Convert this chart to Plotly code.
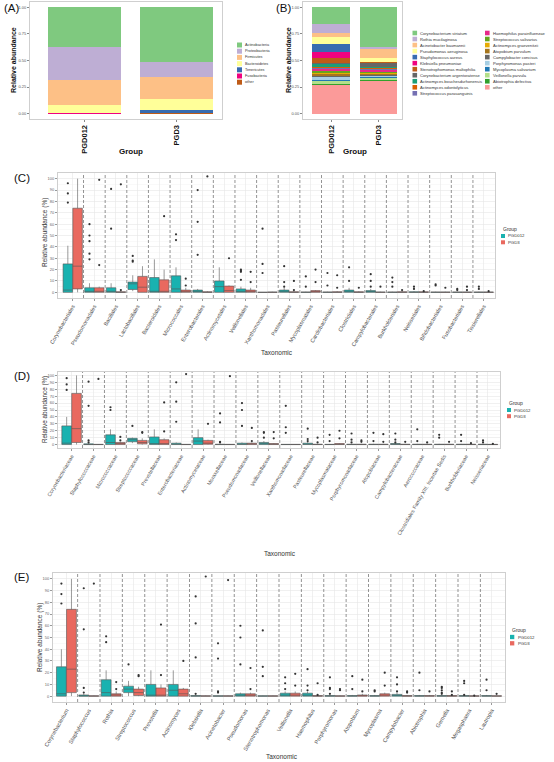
import plotly.graph_objects as go

W, H = 554, 762
FONT = "Liberation Sans, Arial, sans-serif"


def fx(p):
    return p / W


def fy(p):
    return 1 - p / H


# ---------------- Panel A data (phylum) ----------------
groups = ["PGD012", "PGD3"]
phyla = ["Actinobacteria", "Proteobacteria", "Firmicutes", "Bacteroidetes",
         "Tenericutes", "Fusobacteria", "other"]
phyla_colors = ["#7FC97F", "#BEAED4", "#FDC086", "#FFFF99", "#386CB0", "#F0027F", "#BF5B17"]
phyla_PGD012 = [0.373, 0.310, 0.239, 0.068, 0.008, 0.002, 0.000]
phyla_PGD3 = [0.510, 0.148, 0.205, 0.106, 0.023, 0.006, 0.002]

# ---------------- Panel B data (species) ----------------
species = ["Corynebacterium striatum", "Rothia mucilaginosa", "Acinetobacter baumannii",
           "Pseudomonas aeruginosa", "Staphylococcus aureus", "Klebsiella pneumoniae",
           "Stenotrophomonas maltophilia", "Corynebacterium argentoratense",
           "Actinomyces bouchesdurhonensis", "Actinomyces odontolyticus",
           "Streptococcus parasanguinis", "Haemophilus parainfluenzae",
           "Streptococcus salivarius", "Actinomyces graevenitzii", "Atopobium parvulum",
           "Campylobacter concisus", "Porphyromonas pasteri", "Mycoplasma salivarium",
           "Veillonella parvula", "Abiotrophia defectiva", "other"]
species_colors = ["#7FC97F", "#BEAED4", "#FDC086", "#FFFF99", "#386CB0", "#F0027F", "#BF5B17",
                  "#666666", "#1B9E77", "#D95F02", "#7570B3", "#E7298A", "#66A61E", "#E6AB02",
                  "#A6761D", "#666666", "#A6CEE3", "#1F78B4", "#B2DF8A", "#33A02C", "#FB9A99"]
species_PGD012 = [0.156, 0.088, 0.037, 0.063, 0.078, 0.053, 0.047, 0.015, 0.020, 0.012, 0.010,
                  0.020, 0.015, 0.012, 0.018, 0.015, 0.020, 0.015, 0.025, 0.015, 0.266]
species_PGD3 = [0.369, 0.025, 0.081, 0.035, 0.004, 0.003, 0.006, 0.035, 0.012, 0.012, 0.010,
                0.012, 0.010, 0.010, 0.012, 0.012, 0.010, 0.010, 0.014, 0.006, 0.312]

# ---------------- Panel C data (order) ----------------
C_cats = ["Corynebacteriales", "Pseudomonadales", "Bacillales", "Lactobacillales", "Bacteroidales",
          "Micrococcales", "Enterobacterales", "Actinomycetales", "Veillonellales", "Xanthomonadales",
          "Pasteurellales", "Mycoplasmatales", "Cardiobacteriales", "Clostridiales",
          "Campylobacterales", "Burkholderiales", "Neisseriales", "Bifidobacteriales",
          "Fusobacteriales", "Tissierellales"]
C_t_q1 = [0, 0, 0, 2.5, 0, 0, 0, 0, 0, 0, 0, 0, 0, 0, 0, 0, 0, 0, 0, 0]
C_t_med = [2, 0, 0, 7.5, 0, 3, 0.5, 5, 0, 0, 0, 0, 0, 0.5, 0, 0, 0, 0, 0, 0]
C_t_q3 = [25, 4, 4, 9, 13, 14.5, 2, 10, 3, 0, 2, 0.3, 0.3, 2, 1.5, 0.3, 0.5, 0.3, 0.3, 0.3]
C_t_lo = [0, 0, 0, 1, 0, 0, 0, 0, 0, 0, 0, 0, 0, 0, 0, 0, 0, 0, 0, 0]
C_t_hi = [41, 8, 8, 15, 29, 22, 3, 22, 5, 0, 4, 0.5, 0.5, 4, 3, 0.5, 1, 0.5, 0.5, 0.5]
C_t_out = [[79, 87, 96], [29, 34, 45, 50, 60], [56, 91], [27, 28, 32], [], [46, 51], [33, 62, 90],
           [], [11, 18, 19, 20], [17, 25, 56], [5, 9, 23], [5, 14], [6, 17], [10, 22], [5, 10, 16],
           [5, 9, 13], [3, 5], [6, 7], [2, 3], [3, 5]]
C_r_q1 = [3, 0, 0, 0, 0, 0, 0, 0, 0, 0, 0, 0, 0, 0, 0, 0, 0, 0, 0, 0]
C_r_med = [23, 0.5, 0, 4.5, 0.5, 0.5, 0, 1.5, 0.5, 0, 0, 0.3, 0, 0, 0, 0, 0, 0, 0, 0]
C_r_q3 = [74, 4, 0.5, 14, 11, 2, 0.5, 5.5, 2, 0.3, 0.5, 1.5, 0.5, 0.5, 0.3, 0.5, 0.5, 0.3, 0.3, 0.3]
C_r_lo = [0, 0, 0, 0, 0, 0, 0, 0, 0, 0, 0, 0, 0, 0, 0, 0, 0, 0, 0, 0]
C_r_hi = [100, 5, 1, 23, 20, 4, 1, 6, 4, 0.5, 1, 2, 1, 1, 0.5, 1, 1, 0.5, 0.5, 0.5]
C_r_out = [[], [24, 99], [2, 95], [], [67], [6, 12], [102], [30], [9, 18], [], [2, 10], [9, 20],
           [4, 15], [4], [5], [2], [1], [4], [2, 5], [1]]

# ---------------- Panel D data (family) ----------------
D_cats = ["Corynebacteriaceae", "Staphylococcaceae", "Micrococcaceae", "Streptococcaceae",
          "Prevotellaceae", "Enterobacteriaceae", "Actinomycetaceae", "Moraxellaceae",
          "Pseudomonadaceae", "Veillonellaceae", "Xanthomonadaceae", "Pasteurellaceae",
          "Mycoplasmataceae", "Porphyromonadaceae", "Atopobiaceae", "Campylobacteraceae",
          "Aerococcaceae", "Clostridiales Family XIII. Incertae Sedis", "Burkholderiaceae",
          "Neisseriaceae"]
D_t_q1 = [0, 0, 0, 4, 0, 0, 0, 0, 0, 0, 0, 0, 0, 0, 0, 0, 0, 0, 0, 0]
D_t_med = [2, 0, 3, 7, 0, 0.5, 5, 0, 0.5, 0.5, 0, 0.5, 0, 0, 0, 0.5, 0, 0, 0, 0]
D_t_q3 = [27, 1, 14, 9, 11, 2, 10, 0.5, 2, 3, 0.3, 2, 0.3, 0.5, 0.5, 1.5, 0.5, 0.5, 0.5, 0.5]
D_t_lo = [0, 0, 0, 2, 0, 0, 0, 0, 0, 0, 0, 0, 0, 0, 0, 0, 0, 0, 0, 0]
D_t_hi = [40, 2, 22, 10, 22, 3, 22, 1, 3, 5, 0.5, 4, 0.5, 1, 1, 3, 1, 1, 1, 1]
D_t_out = [[79, 87, 96], [3, 6, 56, 91], [50, 54], [27], [], [33, 62, 90], [], [3, 4, 32, 45],
           [27, 50, 60], [10, 17, 18], [17, 25, 56], [5, 8, 23], [5, 14], [3, 7, 16], [5, 17],
           [3, 7, 16], [5, 22], [10, 14], [5, 14], [3, 6]]
D_r_q1 = [3, 0, 0, 1, 0, 0, 0.5, 0, 0, 0, 0, 0, 0, 0, 0, 0, 0, 0, 0, 0]
D_r_med = [23, 0, 1, 3, 0, 0, 2, 0, 1, 0.5, 0, 0, 0.3, 0, 0, 0, 0, 0, 0, 0]
D_r_q3 = [74, 0.3, 3, 6, 7, 0.3, 6, 0.3, 2, 1.5, 0.3, 0.5, 1.5, 0.5, 0.5, 0.5, 0.5, 0.5, 0.5, 0.3]
D_r_lo = [0, 0, 0, 0, 0, 0, 0, 0, 0, 0, 0, 0, 0, 0, 0, 0, 0, 0, 0, 0]
D_r_hi = [100, 0.5, 4, 9, 9, 0.5, 7, 0.5, 3, 2, 0.5, 1, 2, 1, 1, 1, 1, 1, 1, 0.5]
D_r_out = [[], [95], [6, 11], [17, 18], [19, 61], [102], [30], [99], [5, 24], [9, 18], [], [3, 10],
           [9, 20], [4, 6], [4, 15], [4], [3], [4], [2], [1]]

# ---------------- Panel E data (genus) ----------------
E_cats = ["Corynebacterium", "Staphylococcus", "Rothia", "Streptococcus", "Prevotella",
          "Actinomyces", "Klebsiella", "Acinetobacter", "Pseudomonas", "Stenotrophomonas",
          "Veillonella", "Haemophilus", "Porphyromonas", "Atopobium", "Mycoplasma",
          "Campylobacter", "Abiotrophia", "Gemella", "Megasphaera", "Lautropia"]
E_t_q1 = [0, 0, 0, 3, 0, 0, 0, 0, 0, 0, 0, 0, 0, 0, 0, 0, 0, 0, 0, 0]
E_t_med = [2, 0, 3, 6, 0, 5, 0, 0, 0, 0, 0, 0, 0, 0, 0, 0, 0, 0, 0, 0]
E_t_q3 = [25, 1, 14, 8.5, 10, 10, 0.5, 0.3, 2, 0.3, 2.5, 2.5, 0.5, 0.5, 0.5, 1.5, 0.5, 0.5, 0.5, 0.5]
E_t_lo = [0, 0, 0, 0, 0, 0, 0, 0, 0, 0, 0, 0, 0, 0, 0, 0, 0, 0, 0, 0]
E_t_hi = [40, 2, 22, 13, 22, 22, 1, 0.5, 3, 0.5, 4, 4, 1, 1, 1, 3, 1, 1, 0.8, 1]
E_t_out = [[79, 87, 96], [3, 7, 57, 92], [46, 51], [27], [], [], [2, 33, 62, 85], [3, 4, 32, 45],
           [27, 50, 60], [17, 25, 56], [6, 11, 16], [5, 9, 23], [2, 6, 7, 16], [6, 17], [4, 5],
           [4, 10, 16], [5, 20], [2, 3, 5, 7, 8], [1, 11, 13], [5, 14]]
E_r_q1 = [3, 0, 0, 0.5, 0, 0, 0, 0, 0, 0, 0, 0, 0, 0, 0, 0, 0, 0, 0, 0]
E_r_med = [23, 0, 1, 3, 0, 2, 0, 0, 0.5, 0, 0.5, 0, 0, 0.3, 0.5, 0, 0, 0, 0, 0]
E_r_q3 = [74, 0.3, 2, 6, 7, 6, 0.3, 0.3, 2, 0.3, 2.5, 0.5, 0.3, 1, 2, 0.5, 0.5, 0.5, 0.3, 0.3]
E_r_lo = [0, 0, 0, 0, 0, 0, 0, 0, 0, 0, 0, 0, 0, 0, 0, 0, 0, 0, 0, 0]
E_r_hi = [100, 0.5, 4, 8, 10, 7, 0.5, 0.5, 3, 0.5, 4, 1, 0.5, 2, 3, 1, 1, 1, 0.5, 0.5]
E_r_out = [[], [96], [6, 12], [17, 18], [18, 61], [30], [102], [99], [6, 24], [], [9, 19], [1, 11],
           [5, 6], [4, 14], [9, 20], [3, 4], [4], [1, 4], [0.5], [2]]

box_groups = ["PGD012", "PGD3"]
box_colors = ["#19B2B0", "#E9695F"]
y_ticks_pct = [0, 10, 20, 30, 40, 50, 60, 70, 80, 90, 100]

fig = go.Figure()
shapes = []
annotations = []

# ---------------- stacked bars ----------------
for k in reversed(range(len(phyla))):
    fig.add_trace(go.Bar(x=groups, y=[phyla_PGD012[k], phyla_PGD3[k]], name=phyla[k],
                         marker=dict(color=phyla_colors[k], line=dict(width=0)), width=0.8,
                         xaxis="x", yaxis="y", showlegend=False, hoverinfo="skip"))
for k in reversed(range(len(species))):
    fig.add_trace(go.Bar(x=groups, y=[species_PGD012[k], species_PGD3[k]], name=species[k],
                         marker=dict(color=species_colors[k], line=dict(width=0)), width=0.8,
                         xaxis="x2", yaxis="y2", showlegend=False, hoverinfo="skip"))

# ---------------- box panels ----------------
OFF = 0.225


def add_box_panel(ax, cats, t_stats, r_stats, t_out, r_out):
    n = len(cats)
    for gi, (stats, outs) in enumerate([(t_stats, t_out), (r_stats, r_out)]):
        off = -OFF if gi == 0 else OFF
        xs = [i + off for i in range(n)]
        q1, med, q3, lo, hi = stats
        fig.add_trace(go.Box(x=xs, q1=q1, median=med, q3=q3, lowerfence=lo, upperfence=hi,
                             width=0.44, fillcolor=box_colors[gi],
                             line=dict(color="#555555", width=0.6), whiskerwidth=0,
                             boxpoints=False, name=box_groups[gi], showlegend=False,
                             hoverinfo="skip", xaxis="x" + ax, yaxis="y" + ax))
        ox, oy = [], []
        for i, vals in enumerate(outs):
            for v in vals:
                ox.append(i + off)
                oy.append(v)
        fig.add_trace(go.Scatter(x=ox, y=oy, mode="markers",
                                 marker=dict(size=2.2, color="#333333"),
                                 showlegend=False, hoverinfo="skip",
                                 xaxis="x" + ax, yaxis="y" + ax))
    for k in range(n - 1):
        shapes.append(dict(type="line", xref="x" + ax, yref="y" + ax + " domain",
                           x0=k + 0.5, x1=k + 0.5, y0=0, y1=1,
                           line=dict(color="#666666", width=0.7, dash="3px,2px")))


add_box_panel("3", C_cats, (C_t_q1, C_t_med, C_t_q3, C_t_lo, C_t_hi),
              (C_r_q1, C_r_med, C_r_q3, C_r_lo, C_r_hi), C_t_out, C_r_out)
add_box_panel("4", D_cats, (D_t_q1, D_t_med, D_t_q3, D_t_lo, D_t_hi),
              (D_r_q1, D_r_med, D_r_q3, D_r_lo, D_r_hi), D_t_out, D_r_out)
add_box_panel("5", E_cats, (E_t_q1, E_t_med, E_t_q3, E_t_lo, E_t_hi),
              (E_r_q1, E_r_med, E_r_q3, E_r_lo, E_r_hi), E_t_out, E_r_out)

# ---------------- axes ----------------
BORDER = "#CFCFCF"


def bar_axes(xd, yd):
    xa = dict(domain=xd, type="category", categoryorder="array", categoryarray=groups,
              range=[-0.6, 1.5], showline=True, mirror=True, linecolor=BORDER, linewidth=1,
              showgrid=False, zeroline=False, tickangle=-90, ticks="outside", ticklen=2,
              tickcolor="#888", tickfont=dict(size=7.5, color="#111", weight="bold", family=FONT),
              automargin=False)
    ya = dict(domain=yd, range=[-0.05, 1.05], tickvals=[0, 0.25, 0.5, 0.75, 1],
              ticktext=["0.00", "0.25", "0.50", "0.75", "1.00"], showline=True, mirror=True,
              linecolor=BORDER, linewidth=1, showgrid=False, zeroline=False, ticks="outside",
              ticklen=2, tickcolor="#888", tickfont=dict(size=4, color="#555", family=FONT),
              automargin=False)
    return xa, ya


def box_axes(xd, yd, cats, fsize, xr):
    xa = dict(domain=xd, range=xr, tickmode="array", tickvals=list(range(len(cats))),
              ticktext=cats, tickangle=-60, showline=True, mirror=True, linecolor=BORDER,
              linewidth=1, showgrid=True, gridcolor="#E6E6E6", gridwidth=0.6, zeroline=False,
              ticks="outside", ticklen=2, tickcolor="#999",
              tickfont=dict(size=fsize, color="#4D4D4D", family=FONT), automargin=False)
    ya = dict(domain=yd, range=[-5, 105], tickmode="array", tickvals=y_ticks_pct,
              showline=True, mirror=True, linecolor=BORDER, linewidth=1, showgrid=True,
              gridcolor="#E6E6E6", gridwidth=0.6, zeroline=False, ticks="outside", ticklen=2,
              tickcolor="#999", tickfont=dict(size=4, color="#666", family=FONT),
              minor=dict(tickvals=[5, 15, 25, 35, 45, 55, 65, 75, 85, 95], showgrid=True,
                         gridcolor="#F3F3F3", gridwidth=0.5),
              automargin=False)
    return xa, ya


xa1, ya1 = bar_axes([fx(30), fx(222)], [fy(119), fy(2)])
xa2, ya2 = bar_axes([fx(303), fx(402)], [fy(119), fy(2)])
xa3, ya3 = box_axes([fx(58), fx(495)], [fy(298), fy(173)], C_cats, 5.5, [-0.68, 19.52])
xa4, ya4 = box_axes([fx(58), fx(500)], [fy(448), fy(372)], D_cats, 5.3, [-0.62, 19.55])
xa5, ya5 = box_axes([fx(53), fx(505)], [fy(702), fy(573)], E_cats, 5.6, [-0.6, 19.6])
for i, (xa, ya) in enumerate([(xa1, ya1), (xa2, ya2), (xa3, ya3), (xa4, ya4), (xa5, ya5)], 1):
    xa["anchor"] = "y" if i == 1 else "y%d" % i
    ya["anchor"] = "x" if i == 1 else "x%d" % i

# ---------------- text annotations ----------------


def ann(text, x, y, size, color="#222", bold=False, angle=0, xanchor="center",
        yanchor="middle"):
    annotations.append(dict(text=text, x=fx(x), y=fy(y), xref="paper", yref="paper",
                            showarrow=False, textangle=angle, xanchor=xanchor, yanchor=yanchor,
                            font=dict(size=size, color=color, family=FONT,
                                      weight="bold" if bold else "normal")))


ann("(A)", 2, 8, 11.5, color="#111", xanchor="left")
ann("(B)", 274, 8, 11.5, color="#111", xanchor="left")
ann("(C)", 12, 178, 11.5, color="#111", xanchor="left")
ann("(D)", 12, 376, 11.5, color="#111", xanchor="left")
ann("(E)", 12, 577, 11.5, color="#111", xanchor="left")

ann("Relative abundance", 14, 60, 7, color="#111", bold=True, angle=-90)
ann("Relative abundance", 289, 60, 7, color="#111", bold=True, angle=-90)
ann("Group", 131, 152, 8, color="#111", bold=True)
ann("Group", 355, 151, 8, color="#111", bold=True)

ann("Relative abundance (%)", 45, 233, 6.5, color="#333", angle=-90)
ann("Relative abundance (%)", 45, 410, 6.3, color="#333", angle=-90)
ann("Relative abundance (%)", 40, 638, 6.5, color="#333", angle=-90)
ann("Taxonomic", 277, 353, 6.5, color="#333")
ann("Taxonomic", 280, 553, 6.5, color="#333")
ann("Taxonomic", 282, 756, 6.5, color="#333")

# ---------------- manual legends ----------------


def legend(names, colors, x0, y0, dy, sq, fsize):
    for i, (nm, c) in enumerate(zip(names, colors)):
        yc = y0 + i * dy
        shapes.append(dict(type="rect", xref="paper", yref="paper", x0=fx(x0), x1=fx(x0 + sq),
                           y0=fy(yc + sq / 2), y1=fy(yc - sq / 2), fillcolor=c,
                           line=dict(width=0)))
        ann(nm, x0 + sq + 1.2, yc, fsize, color="#333", xanchor="left")


legend(phyla, phyla_colors, 237, 45, 6.2, 5, 3.8)
legend(species[:11], species_colors[:11], 412.5, 33, 6.03, 4.6, 4.1)
legend(species[11:], species_colors[11:], 485, 33, 6.03, 4.6, 4.1)

ann("Group", 501, 229, 5, color="#333", xanchor="left")
legend(box_groups, box_colors, 501, 236, 6.3, 4, 4.3)
ann("Group", 507, 403, 5, color="#333", xanchor="left")
legend(box_groups, box_colors, 507, 410, 6.2, 4, 4.3)
ann("Group", 510, 630, 5, color="#333", xanchor="left")
legend(box_groups, box_colors, 510, 637, 6.3, 4.3, 4.3)

fig.update_layout(
    template="none", width=W, height=H, margin=dict(l=0, r=0, t=0, b=0),
    paper_bgcolor="white", plot_bgcolor="white", barmode="stack", boxmode="overlay",
    showlegend=False, font=dict(family=FONT, color="#333"),
    xaxis=xa1, yaxis=ya1, xaxis2=xa2, yaxis2=ya2, xaxis3=xa3, yaxis3=ya3,
    xaxis4=xa4, yaxis4=ya4, xaxis5=xa5, yaxis5=ya5,
    shapes=shapes, annotations=annotations,
)

fig.write_html("out.html", config={"displayModeBar": False, "staticPlot": True},
               post_script="document.body.style.margin='0px';document.body.style.overflow='hidden';")
